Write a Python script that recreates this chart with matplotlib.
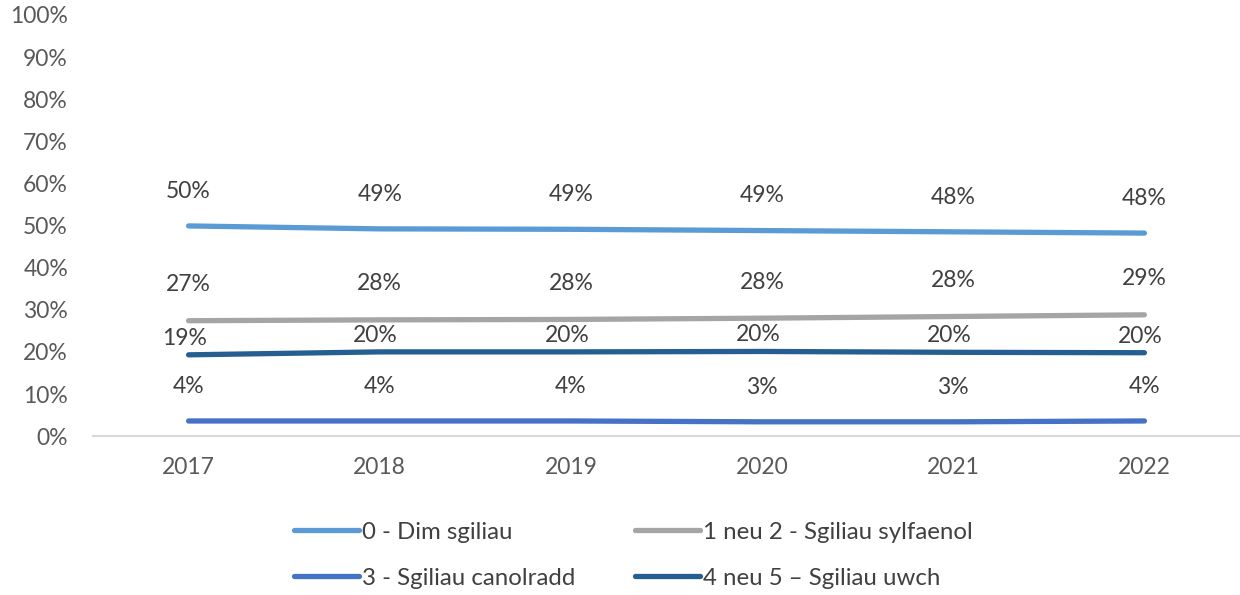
import matplotlib
matplotlib.use("Agg")
import matplotlib.pyplot as plt
from matplotlib.ticker import PercentFormatter

years = ["2017", "2018", "2019", "2020", "2021", "2022"]
dim = [49.9, 49.2, 49.1, 48.8, 48.5, 48.2]
sylfaenol = [27.4, 27.6, 27.7, 28.0, 28.4, 28.8]
canolradd = [3.6, 3.6, 3.6, 3.4, 3.4, 3.6]
uwch = [19.3, 20.0, 20.0, 20.1, 19.9, 19.8]

names = ["0 - Dim sgiliau", "1 neu 2 - Sgiliau sylfaenol",
         "3 - Sgiliau canolradd", "4 neu 5 \u2013 Sgiliau uwch"]

plt.rcParams['font.family'] = ['Lato', 'DejaVu Sans']

fig = plt.figure(figsize=(12.4, 5.95), dpi=100)
ax = fig.add_axes([0.075, 0.267, 0.925, 0.708])

series = [
    (dim, "#5B9BD5", names[0], (0, 25)),
    (sylfaenol, "#A5A5A5", names[1], (0, 26)),
    (canolradd, "#4472C4", names[2], (0, 25)),
    (uwch, "#255E91", names[3], (-3, 12)),
]
x = list(range(len(years)))
handles = {}
for vals, col, name, off in series:
    h, = ax.plot(x, vals, color=col, lw=3.8, solid_capstyle='round', label=name)
    handles[name] = h
    for xi, v in zip(x, vals):
        ax.annotate(f"{round(v):d}%", (xi, v), xytext=off, textcoords="offset points",
                    ha="center", va="center", fontsize=16.5, color="#404040")

ax.set_xlim(-0.5, 5.5)
ax.set_ylim(0, 100)
ax.set_yticks(range(0, 101, 10))
ax.yaxis.set_major_formatter(PercentFormatter(decimals=0))
ax.set_xticks(x)
ax.set_xticklabels(years)
for s in ["top", "right", "left"]:
    ax.spines[s].set_visible(False)
ax.spines["bottom"].set_color("#D9D9D9")
ax.spines["bottom"].set_linewidth(1.5)
ax.tick_params(axis="both", length=0, labelsize=16.5, colors="#595959")
ax.tick_params(axis="x", pad=15)
ax.tick_params(axis="y", pad=18)

order = [names[0], names[2], names[1], names[3]]
leg = fig.legend([handles[n] for n in order], order, ncol=2, loc="center",
                 bbox_to_anchor=(0.511, 0.067), frameon=False, fontsize=17.3,
                 handlelength=2.7, handletextpad=0.12, columnspacing=2.5,
                 labelspacing=1.05)
for t in leg.get_texts():
    t.set_color("#404040")

fig.savefig("out.png", dpi=100)
